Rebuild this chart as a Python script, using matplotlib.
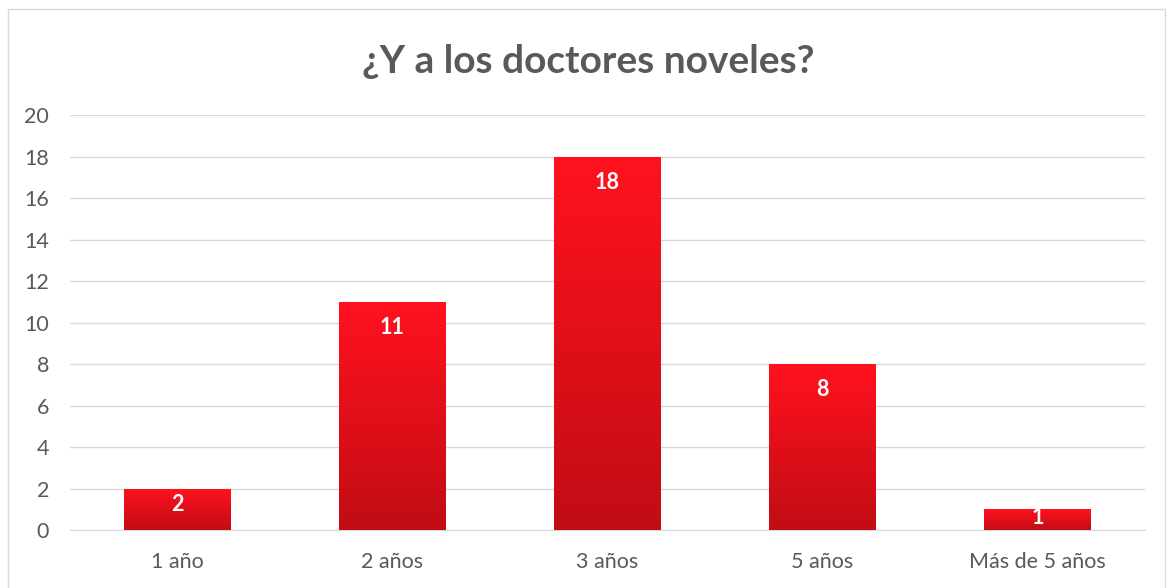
import matplotlib.pyplot as plt
from matplotlib.patches import Rectangle
from matplotlib.colors import LinearSegmentedColormap
import numpy as np

plt.rc('font', family=['Lato', 'DejaVu Sans'], size=15.5)

categorias = ['1 año', '2 años', '3 años', '5 años', 'Más de 5 años']
valores = [2, 11, 18, 8, 1]
yticks = [0, 2, 4, 6, 8, 10, 12, 14, 16, 18, 20]

gris = '#595959'

fig = plt.figure(figsize=(11.69, 5.88), dpi=100)
ax = fig.add_axes([0.0599, 0.0986, 0.9196, 0.7058])

# borde del grafico
fig.patches.append(Rectangle((0.007, -0.01), 0.99, 0.995, transform=fig.transFigure,
                             fill=False, edgecolor='#D9D9D9', linewidth=1))

x = np.arange(len(categorias))
bars = ax.bar(x, valores, width=0.495, color='none', zorder=3)

# degradado rojo en cada barra
grad = np.linspace(0, 1, 256).reshape(-1, 1)
cmap = LinearSegmentedColormap.from_list('rojo', ['#C20C14', '#FF121E'])
for b in bars:
    x0, y0 = b.get_x(), b.get_y()
    w, h = b.get_width(), b.get_height()
    im = ax.imshow(grad, extent=(x0, x0 + w, y0, y0 + h), origin='lower',
                   cmap=cmap, aspect='auto', zorder=3)
    im.set_clip_path(b)

for xi, v in zip(x, valores):
    ax.text(xi, max(v - 1.25, v * 0.62), str(v), ha='center', va='center',
            color='white', fontweight='bold', fontsize=15.5, zorder=4)

ax.set_xlim(-0.5, len(categorias) - 0.5)
ax.set_ylim(0, 20)
ax.set_yticks(yticks)
ax.set_xticks(x)
ax.set_xticklabels(categorias)
ax.yaxis.grid(True, color='#D9D9D9', linewidth=1, zorder=0)
ax.set_axisbelow(True)
for s in ['top', 'right', 'left']:
    ax.spines[s].set_visible(False)
ax.spines['bottom'].set_color('#D9D9D9')
ax.tick_params(axis='both', length=0, colors=gris, labelsize=15.5)
ax.tick_params(axis='y', pad=15)
ax.tick_params(axis='x', pad=16)

fig.text(0.503, 0.895, '¿Y a los doctores noveles?', ha='center', va='center',
         color=gris, fontsize=28, fontweight='bold')

plt.savefig('out.png')
